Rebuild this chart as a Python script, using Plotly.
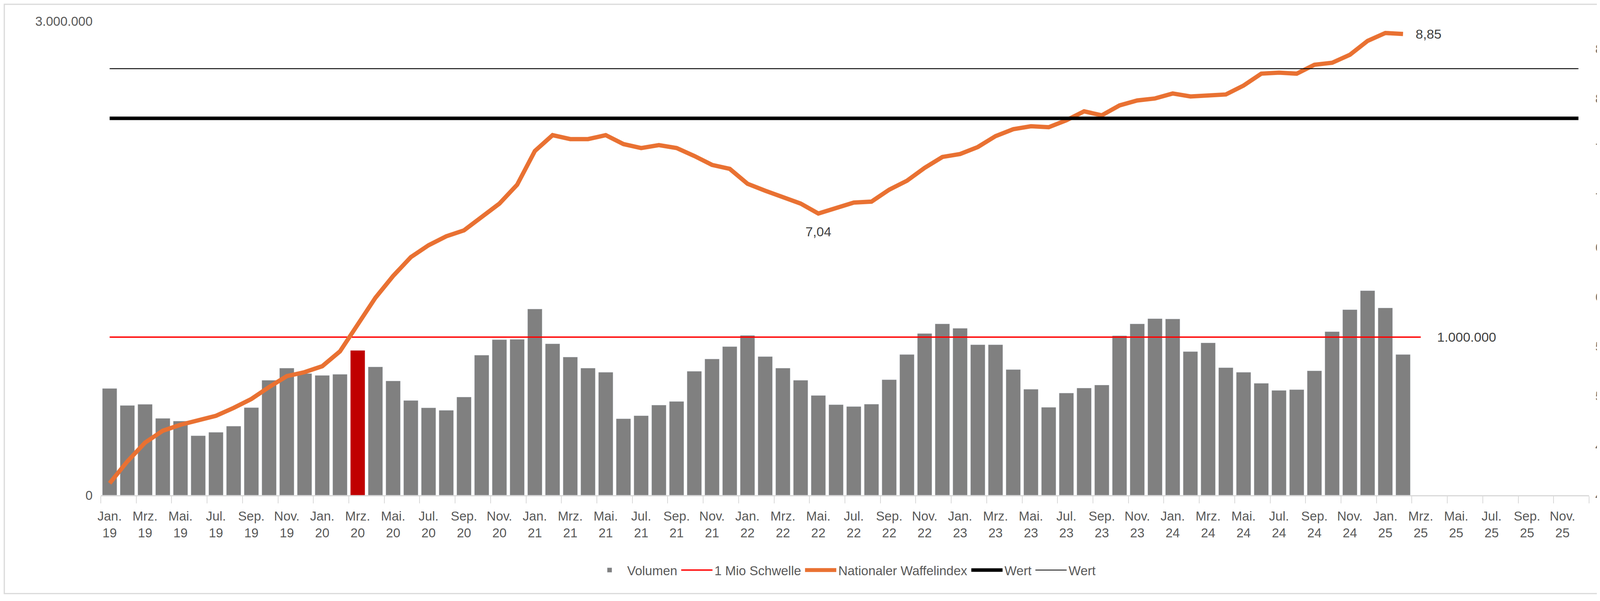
import plotly.graph_objects as go

MONTHS = ["Jan.", "Feb.", "Mrz.", "Apr.", "Mai.", "Jun.", "Jul.", "Aug.", "Sep.", "Okt.", "Nov.", "Dez."]
YEARS = ["19", "20", "21", "22", "23", "24", "25"]
categories = [f"{m}<br>{y}" for y in YEARS for m in MONTHS]  # Jan 19 .. Dez 25

volumen = [
    675000, 568000, 575000, 486000, 469000, 376000, 398000, 437000, 554000, 727000, 804000, 770000,
    758000, 765000, 916000, 812000, 723000, 599000, 553000, 537000, 621000, 886000, 984000, 986000,
    1178000, 958000, 874000, 804000, 778000, 484000, 503000, 570000, 593000, 784000, 862000, 940000,
    1011000, 877000, 804000, 727000, 631000, 573000, 561000, 576000, 731000, 890000, 1023000, 1084000,
    1056000, 952000, 952000, 795000, 670000, 556000, 646000, 678000, 697000, 1009000, 1084000, 1117000,
    1115000, 909000, 964000, 807000, 778000, 708000, 663000, 668000, 787000, 1035000, 1174000, 1294000,
    1185000, 890000,
]
waffelindex = [
    4.32, 4.54, 4.73, 4.85, 4.91, 4.95, 5.00, 5.08, 5.17, 5.29, 5.40, 5.44,
    5.50, 5.65, 5.92, 6.19, 6.41, 6.60, 6.72, 6.81, 6.87, 7.01, 7.14, 7.33,
    7.67, 7.83, 7.79, 7.79, 7.83, 7.74, 7.70, 7.73, 7.70, 7.62, 7.53, 7.49,
    7.34, 7.27, 7.20, 7.14, 7.04, 7.10, 7.15, 7.16, 7.28, 7.37, 7.50, 7.61,
    7.64, 7.71, 7.82, 7.89, 7.92, 7.91, 7.98, 8.07, 8.03, 8.13, 8.18, 8.20,
    8.25, 8.22, 8.23, 8.24, 8.33, 8.45, 8.46, 8.45, 8.54, 8.56, 8.64, 8.78,
    8.86, 8.85,
]
highlight = 14  # Mrz. 20
tief = 40       # Mai. 22, lokales Minimum mit Beschriftung
schwelle = 1000000
wert_dick = 8.0
wert_duenn = 8.5
right_ticks = [4.2, 4.7, 5.2, 5.7, 6.2, 6.7, 7.2, 7.7, 8.2, 8.7]

n_bars = len(volumen)
x_all = list(range(len(categories)))
x_bars = x_all[:n_bars]
bar_colors = ["#C00000" if i == highlight else "#808080" for i in x_bars]

fig = go.Figure()
fig.add_trace(go.Bar(x=x_bars, y=volumen, name="Volumen", marker_color=bar_colors,
                     width=0.82, yaxis="y"))
fig.add_trace(go.Scatter(x=[0, n_bars], y=[schwelle, schwelle], mode="lines",
                         name="1 Mio Schwelle", line=dict(color="#FF0000", width=3.5)))
fig.add_trace(go.Scatter(x=x_bars, y=waffelindex, mode="lines", name="Nationaler Waffelindex",
                         line=dict(color="#E97132", width=11), yaxis="y2"))
fig.add_trace(go.Scatter(x=[0, x_all[-1] - 0.1], y=[wert_dick] * 2, mode="lines", name="Wert",
                         line=dict(color="black", width=9), yaxis="y2"))
fig.add_trace(go.Scatter(x=[0, x_all[-1] - 0.1], y=[wert_duenn] * 2, mode="lines", name="Wert",
                         line=dict(color="black", width=2.2), yaxis="y2"))

lab = dict(size=34, color="#404040")
fig.add_annotation(x=n_bars - 1, y=waffelindex[-1], yref="y2", text=f"{waffelindex[-1]:.2f}".replace(".", ","),
                   showarrow=False, xanchor="left", xshift=30, font=lab)
fig.add_annotation(x=tief, y=waffelindex[tief], yref="y2", text=f"{waffelindex[tief]:.2f}".replace(".", ","),
                   showarrow=False, yanchor="top", yshift=-25, font=lab)
fig.add_annotation(x=n_bars, y=schwelle, yref="y", text="1.000.000",
                   showarrow=False, xanchor="left", xshift=40, font=lab)

W, H = 4220, 1515
ml, mr, mt, mb = 250, 160, 46, 255
pw, ph = W - ml - mr, H - mt - mb
fig.add_shape(type="rect", xref="paper", yref="paper",
              x0=-(ml - 3) / pw, x1=1 + (mr - 3) / pw, y0=-(mb - 3) / ph, y1=1 + (mt - 3) / ph,
              line=dict(color="#D9D9D9", width=3))

tick_font = dict(size=33, color="#595959")
fig.update_layout(
    width=W, height=H,
    margin=dict(l=ml, r=mr, t=mt, b=mb, autoexpand=False),
    paper_bgcolor="white", plot_bgcolor="white",
    font=dict(family="Liberation Sans, Arial, sans-serif", color="#595959"),
    xaxis=dict(range=[-0.5, len(categories) - 0.5], tickvals=x_all[::2], ticktext=categories[::2],
               tickfont=tick_font, showgrid=False, zeroline=False, ticklabelstandoff=22,
               showline=True, linecolor="#D9D9D9", linewidth=3, ticks="",
               minor=dict(ticks="outside", tick0=-0.5, dtick=2, ticklen=18, tickcolor="#D9D9D9", tickwidth=2)),
    yaxis=dict(range=[0, 3000000], tickvals=[0, 3000000], ticktext=["0", "3.000.000"],
               tickfont=tick_font, showgrid=False, zeroline=False, ticks="", ticklabelstandoff=20),
    yaxis2=dict(range=[4.2, 8.98], overlaying="y", side="right", tickvals=right_ticks,
                ticktext=[f"{v:.1f}".replace(".", ",") for v in right_ticks],
                tickfont=tick_font, showgrid=False, zeroline=False, ticks="", ticklabelstandoff=15),
    legend=dict(orientation="h", x=0.5, xanchor="center", y=-0.158, yanchor="middle",
                font=dict(size=33, color="#595959"), itemwidth=80),
    showlegend=True,
)

fig.write_html("out.html")
